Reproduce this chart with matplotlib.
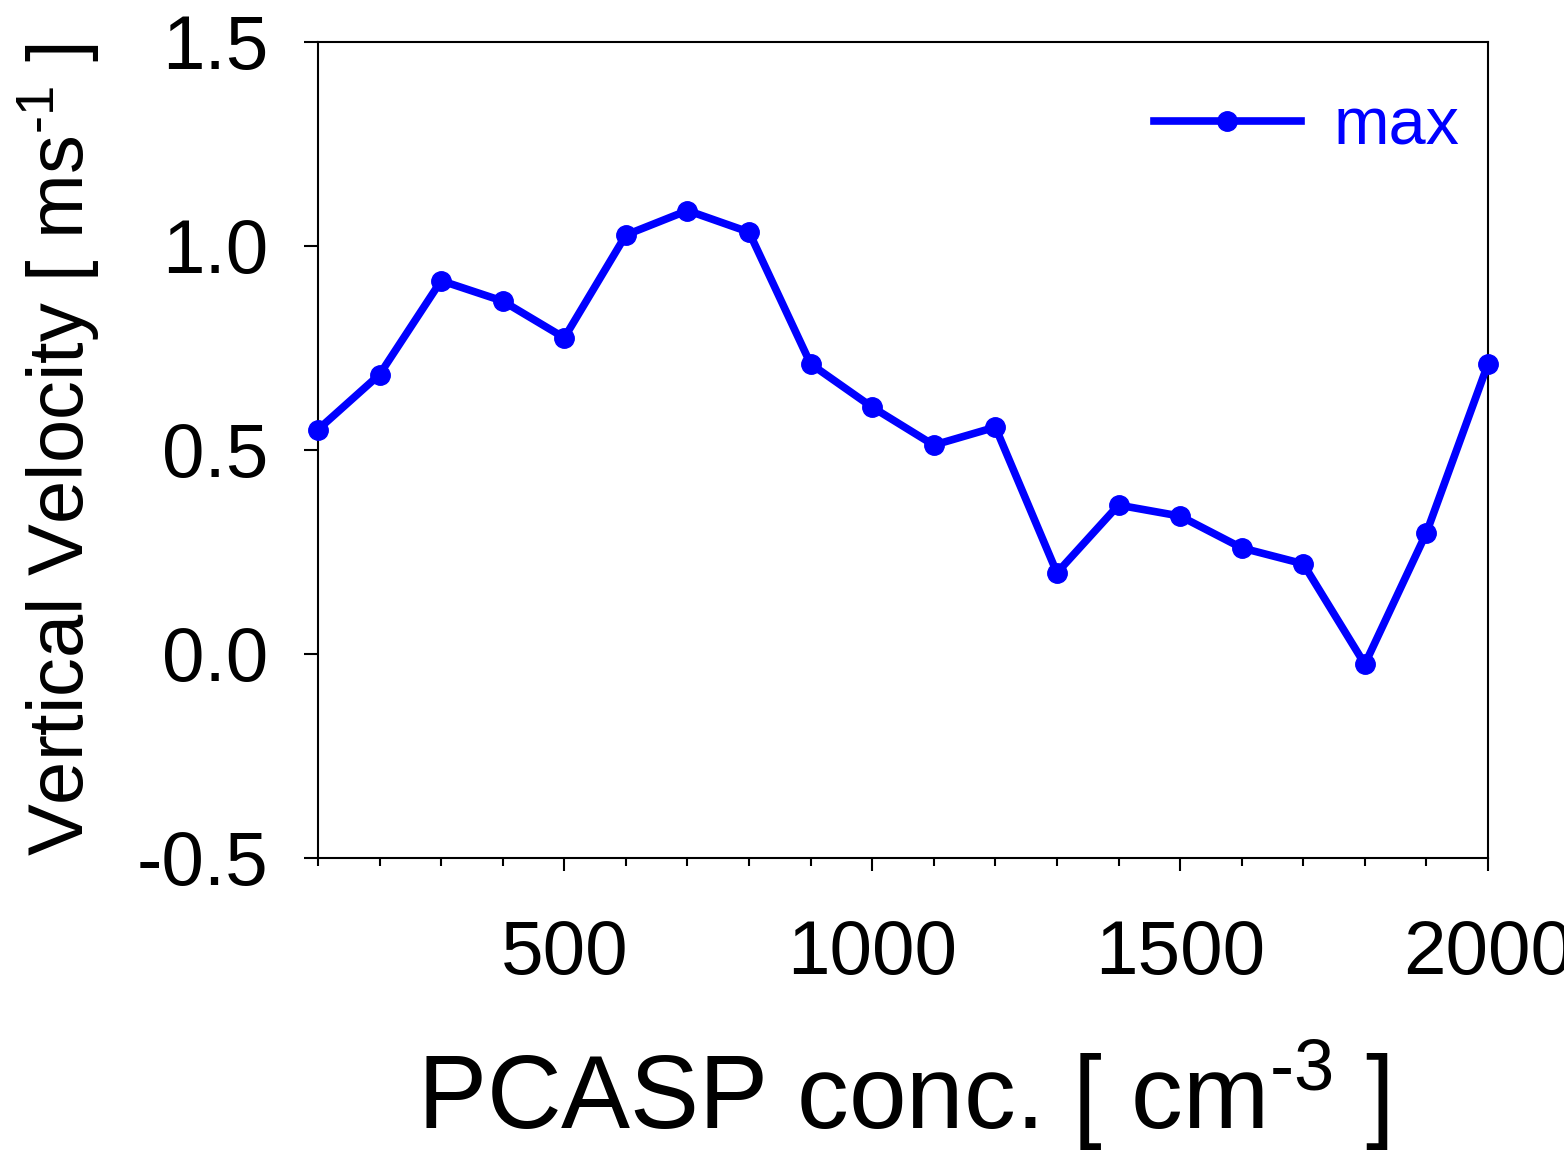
import matplotlib
matplotlib.use("Agg")
import matplotlib.pyplot as plt
from matplotlib.ticker import MultipleLocator, FormatStrFormatter

plt.rcParams['font.family'] = ['Liberation Sans', 'DejaVu Sans']
plt.rcParams['mathtext.fontset'] = 'custom'
plt.rcParams['mathtext.rm'] = 'Liberation Sans'
plt.rcParams['mathtext.it'] = 'Liberation Sans'
plt.rcParams['axes.unicode_minus'] = False

# PCASP concentration bins and max vertical velocity in each
pcasp_conc = [100, 200, 300, 400, 500, 600, 700, 800, 900, 1000,
              1100, 1200, 1300, 1400, 1500, 1600, 1700, 1800, 1900, 2000]
w_max = [0.55, 0.685, 0.915, 0.865, 0.775, 1.027, 1.087, 1.034, 0.711, 0.605,
         0.512, 0.556, 0.199, 0.365, 0.338, 0.260, 0.221, -0.025, 0.297, 0.711]

W, H = 1564, 1153
fig = plt.figure(figsize=(W / 100, H / 100), dpi=100)
ax = fig.add_axes([318 / W, (H - 858) / H, 1170 / W, 816 / H])

ax.plot(pcasp_conc, w_max, color='#0000ff', lw=5.5, marker='o', ms=14,
        label='max', clip_on=False, zorder=3)

ax.set_xlim(100, 2000)
ax.set_ylim(-0.5, 1.5)
ax.xaxis.set_major_locator(MultipleLocator(500))
ax.xaxis.set_minor_locator(MultipleLocator(100))
ax.yaxis.set_major_locator(MultipleLocator(0.5))
ax.yaxis.set_major_formatter(FormatStrFormatter('%.1f'))

ax.tick_params(axis='x', which='major', direction='out', length=9, width=1.5,
               labelsize=55, pad=35, top=False)
ax.tick_params(axis='x', which='minor', direction='out', length=6, width=1.5,
               top=False)
ax.tick_params(axis='y', which='major', direction='out', length=10, width=1.5,
               labelsize=55, pad=26, right=False)
for s in ax.spines.values():
    s.set_linewidth(1.5)

ax.set_xlabel(r'PCASP conc. [ cm$^{\text{-3}}$ ]', fontsize=74.5, labelpad=34)
ax.set_ylabel(r'Vertical Velocity [ ms$^{\text{-1}}$ ]', fontsize=56, labelpad=25)

ax.legend(loc='upper right', bbox_to_anchor=(0.976, 0.933), fontsize=48,
          frameon=False, handlelength=2.2, handletextpad=0.5,
          borderpad=0, borderaxespad=0, labelcolor='#0000ff')

fig.savefig('out.png', dpi=100)
